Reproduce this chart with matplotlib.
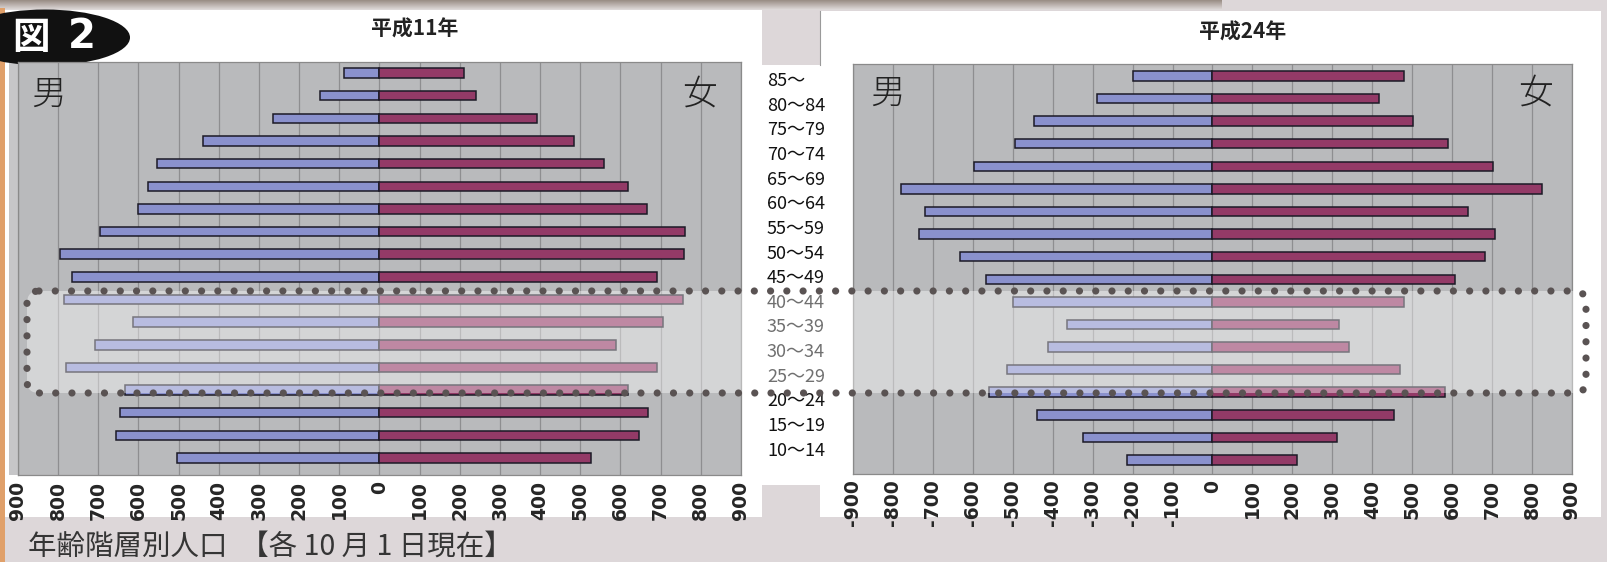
import numpy as np
import matplotlib
matplotlib.use("Agg")
import matplotlib.pyplot as plt
from matplotlib.patches import Rectangle, Ellipse, FancyBboxPatch

# ---- data -------------------------------------------------------------
age_labels = ["85～", "80～84", "75～79", "70～74", "65～69", "60～64", "55～59",
              "50～54", "45～49", "40～44", "35～39", "30～34", "25～29", "20～24",
              "15～19", "10～14"]

# 平成11年 (rows from 85～ down to 0～4)
h11_male = [89, 148, 264, 439, 554, 577, 602, 696, 796, 766, 786, 614, 708, 780,
            634, 647, 657, 504]
h11_female = [211, 241, 393, 484, 558, 618, 667, 760, 758, 692, 755, 707, 589, 692,
              619, 669, 647, 526]

# 平成24年
h24_male = [200, 289, 447, 494, 597, 781, 721, 736, 631, 568, 500, 364, 411, 514,
            560, 439, 325, 214]
h24_female = [479, 417, 503, 590, 701, 825, 640, 707, 681, 606, 479, 317, 342, 469,
              581, 454, 311, 211]

tick_values = list(range(-900, 901, 100))
titles = ["平成11年", "平成24年"]
caption = "年齢階層別人口  【各 10 月 1 日現在】"

# ---- styling ----------------------------------------------------------
W, H = 1608, 562
DPI = 100
BG = "#ddd7d9"
PLOT_BG = "#b9babc"
GRID = "#8e8e90"
MALE = "#8a91cd"
FEMALE = "#933a67"
EDGE = "#1c1a26"
JP = ["Noto Sans CJK JP", "DejaVu Sans"]

plt.rcParams["font.family"] = JP

fig = plt.figure(figsize=(W / DPI, H / DPI), dpi=DPI, facecolor=BG)


def px_rect(x0, y0, x1, y1):
    """Figure-fraction rectangle from pixel box (top-left origin)."""
    return [x0 / W, 1 - y1 / H, (x1 - x0) / W, (y1 - y0) / H]


def pixel_axes(z):
    a = fig.add_axes([0, 0, 1, 1], zorder=z)
    a.set_xlim(0, W)
    a.set_ylim(H, 0)
    a.axis("off")
    return a


# ---- page background: shadow band, panels, orange edge, badge ----------
bg = pixel_axes(-5)
grad = np.linspace(0, 1, 32)[:, None]
top_c = np.array([0.60, 0.55, 0.52])
bot_c = np.array([0.88, 0.86, 0.86])
band = top_c[None, None, :] * (1 - grad[..., None]) + bot_c[None, None, :] * grad[..., None]
band = np.repeat(band, 2, axis=1)
bg.imshow(band, extent=[0, 1222, 10, 0], aspect="auto", zorder=1)

bg.add_patch(Rectangle((4, 10), 758, 507, facecolor="white", edgecolor="none", zorder=2))
bg.add_patch(Rectangle((762, 65), 58, 420, facecolor="white", edgecolor="none", zorder=2))
bg.add_patch(Rectangle((820, 11), 781, 506, facecolor="white", edgecolor="none", zorder=2))
bg.plot([820, 820], [11, 65], color="#9a9a9a", lw=0.8, zorder=3)
bg.add_patch(Rectangle((9, 62), 9, 413, facecolor="#c6c6c8", edgecolor="none", zorder=3))
bg.add_patch(Rectangle((0, 8), 5, H - 8, facecolor="#e0a06a", edgecolor="none", zorder=4))
bg.add_patch(Ellipse((45, 37.5), 170, 56, facecolor="#111111", edgecolor="none", zorder=5))
bg.text(31, 38, "図", color="white", fontsize=27, fontweight="bold",
        ha="center", va="center", zorder=6)
bg.text(82, 37, "2", color="white", fontsize=29, fontweight="bold",
        family="DejaVu Sans", ha="center", va="center", zorder=6)


# ---- pyramids ---------------------------------------------------------
def pyramid(box, ylim, male, female, signed):
    ax = fig.add_axes(px_rect(*box), zorder=0)
    y = np.arange(len(male))
    ax.barh(y, -np.asarray(male), height=0.42, color=MALE, edgecolor=EDGE,
            linewidth=1.1, zorder=3)
    ax.barh(y, np.asarray(female), height=0.42, color=FEMALE, edgecolor=EDGE,
            linewidth=1.1, zorder=3)
    ax.set_xlim(-900, 900)
    ax.set_ylim(*ylim)
    ax.set_facecolor(PLOT_BG)
    ax.set_xticks(tick_values)
    ax.set_xticklabels([str(v) if signed else str(abs(v)) for v in tick_values],
                       rotation=90, fontsize=13.5, fontweight="bold", color="#262626",
                       family="DejaVu Sans")
    ax.tick_params(axis="x", length=0, pad=4)
    ax.set_yticks([])
    ax.grid(axis="x", color=GRID, linewidth=0.9, zorder=1)
    ax.set_axisbelow(True)
    for s in ax.spines.values():
        s.set_color("#8a8a8a")
        s.set_linewidth(0.9)
    return ax


pyramid((18, 62, 741, 475), (17.75, -0.49), h11_male, h11_female, signed=False)
pyramid((853, 64, 1572, 474), (17.62, -0.53), h24_male, h24_female, signed=True)

# ---- texts ------------------------------------------------------------
mid = pixel_axes(5)
mid.text(415, 29, titles[0], fontsize=15, fontweight="bold", color="#222222",
         ha="center", va="center")
mid.text(1243, 32, titles[1], fontsize=15, fontweight="bold", color="#222222",
         ha="center", va="center")
for x, y, s in [(49, 95, "男"), (700, 95, "女"), (888, 94, "男"), (1536, 94, "女")]:
    mid.text(x, y, s, fontsize=25, fontweight="light", color="#222222",
             ha="center", va="center")
for i, lab in enumerate(age_labels):
    mid.text(767, 81 + i * 24.65, lab, fontsize=13, color="#111111",
             ha="left", va="center")
mid.text(28, 547, caption, fontsize=20.5, color="#353535", ha="left", va="center")

# ---- highlighted age band ---------------------------------------------
top = pixel_axes(10)
top.add_patch(FancyBboxPatch((27, 291), 1559, 102,
                             boxstyle="round,pad=0,rounding_size=12",
                             facecolor="white", alpha=0.4, edgecolor="none"))
dots = FancyBboxPatch((27, 291), 1559, 102,
                      boxstyle="round,pad=0,rounding_size=12",
                      facecolor="none", edgecolor="#5a5353", linewidth=5.2,
                      linestyle=(0, (0.001, 2.25)))
dots.set_capstyle("round")
top.add_patch(dots)

fig.savefig("out.png", dpi=DPI, facecolor=BG)
